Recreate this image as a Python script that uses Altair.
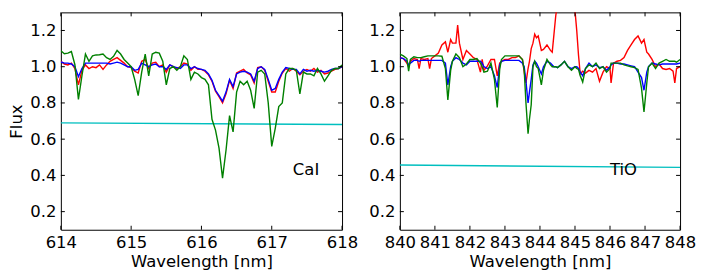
import altair as alt
import pandas as pd

# ---------------- data ----------------
WL_L = [614.00, 614.05, 614.10, 614.15, 614.20, 614.25, 614.30, 614.35, 614.40, 614.45,
        614.50, 614.55, 614.60, 614.65, 614.70, 614.75, 614.80, 614.85, 614.90, 614.95,
        615.00, 615.05, 615.10, 615.15, 615.20, 615.25, 615.30, 615.35, 615.40, 615.45,
        615.50, 615.55, 615.60, 615.65, 615.70, 615.75, 615.80, 615.85, 615.90, 615.95,
        616.00, 616.05, 616.10, 616.15, 616.20, 616.25, 616.30, 616.35, 616.40, 616.45,
        616.50, 616.55, 616.60, 616.65, 616.70, 616.75, 616.80, 616.85, 616.90, 616.95,
        617.00, 617.05, 617.10, 617.15, 617.20, 617.25, 617.30, 617.35, 617.40, 617.45,
        617.50, 617.55, 617.60, 617.65, 617.70, 617.75, 617.80, 617.85, 617.90, 617.95,
        618.00]
RED_L = [1.03, 1.015, 1.01, 1.02, 0.99, 0.90, 0.98, 1.01, 0.99, 1.00,
         0.995, 1.01, 0.985, 1.01, 1.03, 1.04, 1.05, 1.035, 1.02, 1.00,
         0.995, 0.975, 0.965, 1.03, 1.04, 0.99, 1.02, 1.025, 1.00, 1.01,
         0.97, 1.01, 1.00, 0.99, 1.00, 1.02, 1.015, 0.98, 1.00, 0.985,
         0.985, 0.975, 0.955, 0.92, 0.865, 0.835, 0.80, 0.85, 0.925, 0.88,
         0.965, 0.975, 0.985, 0.965, 0.955, 0.91, 0.995, 1.00, 0.98, 0.92,
         0.86, 0.86, 0.92, 0.965, 0.99, 0.975, 0.99, 0.975, 0.955, 0.975,
         0.985, 0.975, 0.99, 0.97, 0.98, 0.96, 0.965, 0.975, 0.985, 0.99,
         1.00]
BLUE_L = [1.026, 1.02, 1.02, 1.015, 1.00, 0.945, 0.99, 1.02, 1.02, 1.02,
          1.02, 1.02, 1.02, 1.02, 1.015, 1.02, 1.025, 1.02, 1.01, 1.00,
          1.00, 0.98, 0.985, 1.02, 1.01, 1.00, 1.01, 1.015, 1.00, 1.00,
          0.985, 1.01, 1.00, 0.995, 0.99, 1.01, 1.01, 0.99, 1.00, 0.99,
          0.985, 0.98, 0.96, 0.925, 0.87, 0.84, 0.81, 0.86, 0.93, 0.89,
          0.96, 0.97, 0.975, 0.97, 0.96, 0.92, 0.99, 1.00, 0.985, 0.93,
          0.87, 0.88, 0.93, 0.97, 0.995, 0.99, 0.985, 0.985, 0.96, 0.985,
          0.975, 0.98, 0.975, 0.98, 0.975, 0.97, 0.975, 0.985, 0.99, 0.99,
          1.00]
GREEN_L = [1.088, 1.072, 1.075, 1.084, 1.011, 0.82, 0.95, 1.07, 1.03, 1.06,
           1.065, 1.066, 1.07, 1.05, 1.04, 1.057, 1.09, 1.07, 1.04, 1.02,
           1.00, 0.93, 0.84, 0.97, 1.07, 0.95, 1.07, 1.08, 1.075, 1.03,
           0.90, 0.99, 1.00, 0.98, 1.00, 1.06, 1.04, 0.93, 0.97, 0.96,
           0.94, 0.93, 0.90, 0.71, 0.65, 0.55, 0.385, 0.54, 0.73, 0.64,
           0.86, 0.92, 0.90, 0.92, 0.87, 0.77, 0.97, 0.98, 0.96, 0.80,
           0.56, 0.66, 0.78, 0.80, 0.96, 0.99, 0.99, 0.98, 0.85, 0.97,
           0.96, 0.96, 0.95, 0.99, 0.96, 0.92, 0.95, 0.98, 0.99, 0.99,
           1.01]

WL_R = [840.00, 840.10, 840.20, 840.25, 840.30, 840.40, 840.50, 840.55, 840.60, 840.70,
        840.80, 840.85, 840.90, 841.00, 841.10, 841.20, 841.30, 841.37, 841.45, 841.50,
        841.60, 841.65, 841.70, 841.80, 841.90, 842.00, 842.10, 842.20, 842.30, 842.35,
        842.40, 842.50, 842.60, 842.70, 842.78, 842.85, 842.90, 843.00, 843.10, 843.20,
        843.30, 843.40, 843.50, 843.55, 843.60, 843.66, 843.70, 843.75, 843.80, 843.85,
        843.90, 843.95, 844.04, 844.10, 844.20, 844.30, 844.35, 844.40, 844.45, 844.50,
        844.60, 844.70, 844.80, 844.90, 845.00, 845.05, 845.10, 845.15, 845.22, 845.30,
        845.40, 845.50, 845.60, 845.70, 845.80, 845.90, 846.00, 846.03, 846.10, 846.20,
        846.30, 846.40, 846.50, 846.60, 846.70, 846.80, 846.90, 846.97, 847.05, 847.10,
        847.20, 847.30, 847.40, 847.50, 847.60, 847.70, 847.80, 847.85, 847.90, 848.00]
RED_R = [1.05, 1.045, 1.02, 1.00, 1.03, 1.045, 1.04, 0.99, 1.045, 1.04,
         1.045, 0.99, 1.045, 1.06, 1.075, 1.12, 1.137, 1.08, 1.15, 1.13,
         1.13, 1.23, 1.13, 1.04, 1.09, 1.07, 1.05, 1.04, 0.97, 1.04,
         0.98, 1.005, 1.04, 1.04, 0.95, 1.02, 1.03, 1.04, 1.04, 1.05,
         1.05, 1.06, 1.04, 0.97, 0.91, 0.99, 1.03, 1.10, 1.13, 1.18,
         1.16, 1.17, 1.09, 1.095, 1.12, 1.09, 1.08, 1.18, 1.28, 1.35,
         1.50, 1.60, 1.60, 1.50, 1.31, 1.20, 1.065, 0.96, 0.975, 0.965,
         0.98, 0.97, 0.99, 0.92, 0.97, 1.00, 0.99, 0.91, 1.02, 1.03,
         1.035, 1.05, 1.09, 1.12, 1.15, 1.17, 1.13, 1.15, 1.08, 1.07,
         1.04, 1.00, 1.015, 0.99, 0.985, 0.99, 0.975, 0.91, 0.99, 1.00]
BLUE_R = [1.05, 1.045, 1.03, 1.01, 1.02, 1.035, 1.035, 1.03, 1.035, 1.035,
          1.035, 1.035, 1.035, 1.035, 1.035, 1.035, 1.02, 0.90, 1.00, 1.03,
          1.05, 1.045, 1.04, 1.02, 1.01, 1.03, 1.03, 1.03, 1.03, 1.02,
          1.00, 0.99, 1.00, 0.95, 0.885, 1.01, 1.03, 1.035, 1.035, 1.035,
          1.035, 1.035, 1.02, 1.00, 0.92, 0.80, 0.86, 0.93, 1.01, 1.03,
          1.02, 1.00, 0.96, 1.00, 1.03, 1.02, 1.01, 1.00, 1.00, 0.995,
          1.01, 1.03, 1.00, 0.99, 1.00, 1.00, 0.99, 0.97, 0.95, 0.99,
          1.02, 1.00, 1.01, 0.995, 1.00, 0.98, 1.00, 1.01, 1.02, 1.02,
          1.015, 1.015, 1.01, 1.005, 1.00, 0.97, 0.94, 0.87, 0.97, 1.00,
          1.02, 1.015, 1.01, 1.015, 1.015, 1.015, 1.015, 1.015, 1.015, 1.02]
GREEN_R = [1.07, 1.06, 1.045, 0.975, 1.04, 1.055, 1.05, 1.05, 1.05, 1.055,
           1.06, 1.06, 1.06, 1.06, 1.06, 1.058, 0.99, 0.817, 0.98, 1.03,
           1.07, 1.06, 1.05, 1.00, 1.015, 1.04, 1.04, 1.045, 1.02, 1.00,
           0.97, 0.975, 1.02, 0.93, 0.775, 0.985, 1.04, 1.06, 1.06, 1.06,
           1.06, 1.06, 1.04, 0.98, 0.80, 0.63, 0.71, 0.79, 1.00, 1.03,
           1.00, 0.99, 0.90, 0.98, 1.04, 1.01, 1.00, 1.00, 1.00, 0.995,
           1.01, 1.03, 1.00, 0.98, 1.00, 0.99, 0.985, 0.95, 0.915, 0.99,
           1.01, 1.00, 1.02, 0.99, 1.00, 0.97, 0.99, 1.02, 1.02, 1.02,
           1.02, 1.01, 1.005, 1.00, 0.995, 0.985, 0.88, 0.75, 0.91, 1.00,
           1.02, 0.99, 1.02, 1.03, 1.04, 1.03, 1.03, 1.03, 1.025, 1.04]

CONT_L_X = [614.0, 618.0]
CONT_L_Y = [0.690, 0.681]
CONT_R_X = [840.0, 848.0]
CONT_R_Y = [0.457, 0.444]

X_TICKS_L = [614, 615, 616, 617, 618]
X_TICKS_R = [840, 841, 842, 843, 844, 845, 846, 847, 848]
Y_TICKS = [0.2, 0.4, 0.6, 0.8, 1.0, 1.2]
Y_DOMAIN = [0.1, 1.3]

LABEL_L = ("CaI", 617.3, 0.40)
LABEL_R = ("TiO", 846.0, 0.40)

FONT = "DejaVu Sans"
FS = 16.5
H = 218
LW = 1.4


def panel(wl, red, blue, green, cx, cy, xdom, xticks, label, ytitle, width):
    df = pd.DataFrame({"wl": wl, "red": red, "blue": blue, "green": green})
    cont = pd.DataFrame({"wl": cx, "v": cy})
    xt = pd.DataFrame({"wl": xticks})
    yt = pd.DataFrame({"v": Y_TICKS})
    lab = pd.DataFrame({"wl": [label[1]], "v": [label[2]], "txt": [label[0]]})

    xs = alt.Scale(domain=xdom, nice=False, zero=False)
    ys = alt.Scale(domain=Y_DOMAIN, nice=False, zero=False)
    xax = alt.Axis(values=xticks, format="d", title="Wavelength [nm]",
                   labelPadding=4.5, minExtent=21, maxExtent=21, titlePadding=2.5,
                   labelFlush=False, labelOverlap=False)
    yax = alt.Axis(values=Y_TICKS, format=".1f", title=ytitle,
                   labelPadding=5, minExtent=31, maxExtent=31, titlePadding=5.5,
                   labelOverlap=False)
    X = alt.X("wl:Q", scale=xs, axis=xax)

    def Y(field):
        return alt.Y(field, scale=ys, axis=yax)

    layers = [
        alt.Chart(cont).mark_line(color="#00bfbf", strokeWidth=LW, clip=True).encode(
            x=X, y=Y("v:Q"))
    ]
    for col, colour in [("red", "#ff0000"), ("blue", "#0000ff"), ("green", "#008000")]:
        layers.append(
            alt.Chart(df).mark_line(color=colour, strokeWidth=LW, clip=True).encode(
                x=X, y=Y(f"{col}:Q"))
        )
    layers.append(
        alt.Chart(lab).mark_text(align="left", baseline="alphabetic", font=FONT,
                                 fontSize=FS, color="black").encode(
            x=X, y=Y("v:Q"), text="txt:N")
    )
    rule = dict(color="black", strokeWidth=1)
    layers.append(alt.Chart(xt).mark_rule(**rule).encode(
        x=X, y=alt.value(H), y2=alt.value(H - 4)))
    layers.append(alt.Chart(xt).mark_rule(**rule).encode(
        x=X, y=alt.value(0), y2=alt.value(4)))
    layers.append(alt.Chart(yt).mark_rule(**rule).encode(
        y=Y("v:Q"), x=alt.value(0), x2=alt.value(4)))
    layers.append(alt.Chart(yt).mark_rule(**rule).encode(
        y=Y("v:Q"), x=alt.value(width - 4), x2=alt.value(width)))
    return alt.layer(*layers).properties(width=width, height=H)


left = panel(WL_L, RED_L, BLUE_L, GREEN_L, CONT_L_X, CONT_L_Y, [614, 618],
             X_TICKS_L, LABEL_L, "Flux", 282)
right = panel(WL_R, RED_R, BLUE_R, GREEN_R, CONT_R_X, CONT_R_Y, [840, 848],
              X_TICKS_R, LABEL_R, None, 281)

chart = (
    alt.hconcat(left, right, spacing=9)
    .properties(padding={"left": 0, "top": 3, "right": 5, "bottom": 0})
    .configure_view(stroke="black", strokeWidth=1)
    .configure_axis(
        labelFont=FONT, labelFontSize=FS, labelColor="black",
        titleFont=FONT, titleFontSize=FS, titleColor="black", titleFontWeight="normal",
        domain=False, ticks=False, grid=False,
    )
)

chart.save("out.html", embed_options={"renderer": "svg", "actions": False})
